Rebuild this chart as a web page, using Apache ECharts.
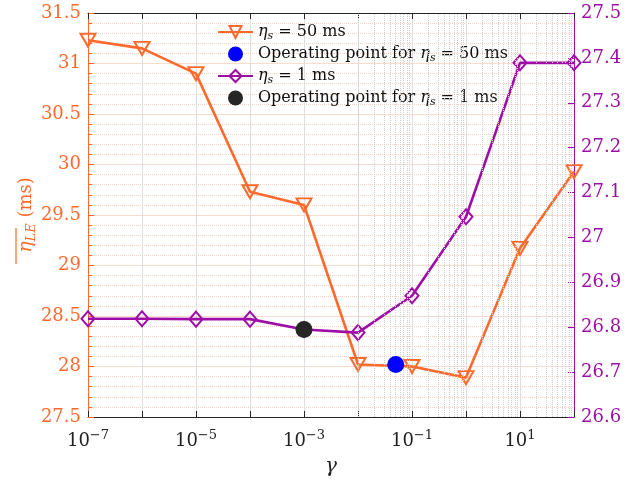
<!DOCTYPE html>
<html>
<head>
<meta charset="utf-8">
<script src="https://cdn.jsdelivr.net/npm/echarts@6/dist/echarts.min.js"></script>
<style>
  html, body { margin: 0; padding: 0; background: #fff; }
  #chart { width: 636px; height: 480px; }
</style>
</head>
<body>
<div id="chart"></div>
<script>
// gamma values (log x axis)
const gammas = [1e-7, 1e-6, 1e-5, 1e-4, 1e-3, 1e-2, 1e-1, 1, 10, 100]
// mean eta_LE for eta_s = 50 ms (left axis)
const eta50 = [31.23, 31.15, 30.9, 29.73, 29.6, 28.02, 28.0, 27.89, 29.17, 29.93]
// mean eta_LE for eta_s = 1 ms (right axis)
const eta1 = [26.819, 26.819, 26.818, 26.818, 26.795, 26.788, 26.87, 27.046, 27.389, 27.389]
// operating points
const op50 = [[0.05, 28.02]]
const op1 = [[1e-3, 26.795]]
// minor log grid positions (2..9 x 10^k)
const minorGrid = []
for (let k = -7; k < 2; k++) {
  for (let m = 2; m <= 9; m++) minorGrid.push(m * Math.pow(10, k))
}

const ORANGE = '#FF6A2C'
const PURPLE = '#9E0EA6'
const FONT = 'DejaVu Serif'

const legendNames = {
  s50: '{e|η}{s|s} = 50 ms',
  p50: 'Operating point for {e|η}{s|s} = 50 ms',
  s1: '{e|η}{s|s} = 1 ms',
  p1: 'Operating point for {e|η}{s|s} = 1 ms'
}

const chart = echarts.init(document.getElementById('chart'))

const xLabelFmt = v => {
  const e = Math.round(Math.log10(v))
  if (e % 2 === 0) return ''
  return '{b|10}{sup|' + (e < 0 ? '\u2212' + (-e) : e) + '}'
}

const option = {
  animation: false,
  backgroundColor: '#fff',
  grid: { left: 88, right: 62, top: 13, bottom: 63, outerBoundsMode: 'none' },
  legend: {
    orient: 'vertical',
    left: 212,
    top: 19,
    itemGap: 4,
    itemWidth: 35,
    itemHeight: 15,
    data: ['s50', 'p50', 's1', 'p1'],
    formatter: n => legendNames[n],
    textStyle: {
      fontFamily: FONT,
      fontSize: 16,
      color: '#111',
      rich: {
        e: { fontFamily: FONT, fontSize: 16, fontStyle: 'italic' },
        s: { fontFamily: FONT, fontSize: 11, fontStyle: 'italic', padding: [9, 0, 0, 0] }
      }
    }
  },
  xAxis: [
    {
      type: 'log',
      logBase: 10,
      min: 1e-7,
      max: 100,
      splitNumber: 9,
      name: 'γ',
      nameLocation: 'middle',
      nameGap: 40,
      nameMoveOverlap: false,
      nameTextStyle: { fontFamily: FONT, fontSize: 20, fontStyle: 'italic', color: '#222' },
      axisLine: { lineStyle: { color: '#262626', width: 1 } },
      axisTick: { inside: true, length: 6, lineStyle: { color: '#262626' } },
      axisLabel: {
        margin: 12,
        formatter: xLabelFmt,
        rich: {
          b: { fontFamily: FONT, fontSize: 18, color: '#222' },
          sup: { fontFamily: FONT, fontSize: 13, color: '#222', padding: [0, 0, 11, 0] }
        }
      },
      splitLine: { show: true, lineStyle: { color: '#dedede', width: 1 } }
    },
    {
      type: 'log',
      logBase: 10,
      min: 1e-7,
      max: 100,
      splitNumber: 9,
      position: 'top',
      axisLine: { lineStyle: { color: '#262626', width: 1 } },
      axisTick: { inside: true, length: 6, lineStyle: { color: '#262626' } },
      axisLabel: { show: false },
      splitLine: { show: false }
    }
  ],
  yAxis: [
    {
      type: 'value',
      min: 27.5,
      max: 31.5,
      interval: 0.5,
      position: 'left',
      name: '{e|η}{s|LE} (ms)',
      nameLocation: 'middle',
      nameGap: 50,
      nameMoveOverlap: false,
      nameTextStyle: {
        fontFamily: FONT, fontSize: 18, color: ORANGE,
        rich: {
          e: { fontFamily: FONT, fontSize: 19, fontStyle: 'italic', color: ORANGE },
          s: { fontFamily: FONT, fontSize: 13, fontStyle: 'italic', color: ORANGE, padding: [10, 0, 0, 0] }
        }
      },
      axisLine: { show: true, lineStyle: { color: ORANGE, width: 1 } },
      axisTick: { inside: true, length: 6, lineStyle: { color: ORANGE } },
      minorTick: { show: true, splitNumber: 5, length: 4, lineStyle: { color: ORANGE } },
      axisLabel: { fontFamily: FONT, fontSize: 18, color: ORANGE, margin: 7 },
      splitLine: { show: true, lineStyle: { color: '#fbdccc', width: 1 } },
      minorSplitLine: { show: true, lineStyle: { color: '#f9d0bc', width: 1, type: 'dotted' } }
    },
    {
      type: 'value',
      min: 26.6,
      max: 27.5,
      interval: 0.1,
      position: 'right',
      axisLine: { show: true, lineStyle: { color: PURPLE, width: 1 } },
      axisTick: { inside: true, length: 6, lineStyle: { color: PURPLE } },
      axisLabel: { fontFamily: FONT, fontSize: 18, color: PURPLE, margin: 7 },
      splitLine: { show: false }
    }
  ],
  graphic: [
    {
      // overline of the left axis symbol
      type: 'line',
      shape: { x1: 16, y1: 228, x2: 16, y2: 264 },
      style: { stroke: ORANGE, lineWidth: 1.2 }
    }
  ],
  series: [
    {
      // helper for the dotted minor log grid
      name: 'grid',
      type: 'line',
      data: gammas.map((g, i) => [g, eta50[i]]),
      symbol: 'none',
      lineStyle: { opacity: 0 },
      silent: true,
      z: 0,
      markLine: {
        silent: true,
        symbol: 'none',
        label: { show: false },
        lineStyle: { color: '#cfcfcf', width: 1, type: 'dotted' },
        data: minorGrid.map(v => ({ xAxis: v }))
      }
    },
    {
      name: 's50',
      type: 'line',
      yAxisIndex: 0,
      data: gammas.map((g, i) => [g, eta50[i]]),
      symbol: 'path://M0,0 L10,0 L5,8.66 Z',
      symbolSize: [15, 13],
      lineStyle: { color: ORANGE, width: 2.6 },
      itemStyle: { color: 'rgba(255,255,255,0)', borderColor: ORANGE, borderWidth: 2 },
      z: 3
    },
    {
      name: 'p50',
      type: 'scatter',
      yAxisIndex: 0,
      data: op50,
      symbol: 'circle',
      symbolSize: 17,
      itemStyle: { color: '#0000FF', opacity: 1 },
      z: 5
    },
    {
      name: 's1',
      type: 'line',
      yAxisIndex: 1,
      data: gammas.map((g, i) => [g, eta1[i]]),
      symbol: 'diamond',
      symbolSize: [13, 15],
      lineStyle: { color: PURPLE, width: 2.6 },
      itemStyle: { color: 'rgba(255,255,255,0)', borderColor: PURPLE, borderWidth: 2 },
      z: 4
    },
    {
      name: 'p1',
      type: 'scatter',
      yAxisIndex: 1,
      data: op1,
      symbol: 'circle',
      symbolSize: 17,
      itemStyle: { color: '#262626', opacity: 1 },
      z: 5
    }
  ]
}

chart.setOption(option)
</script>
</body>
</html>
